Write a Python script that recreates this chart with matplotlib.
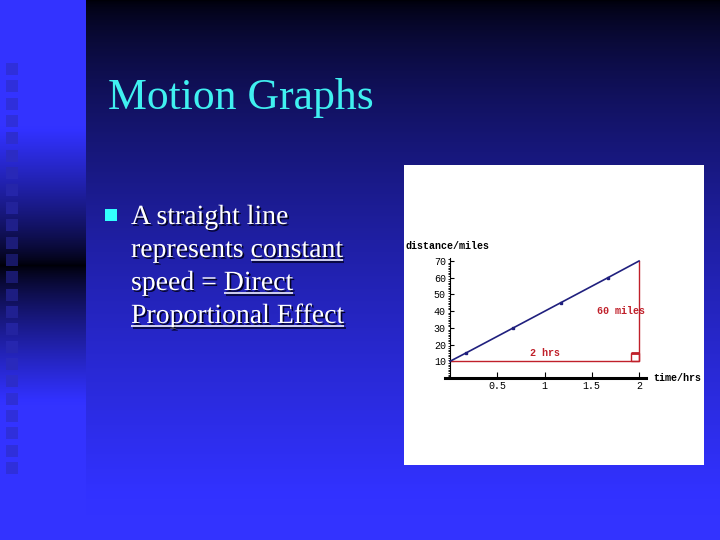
import numpy as np
import matplotlib
matplotlib.use("Agg")
import matplotlib.pyplot as plt
from matplotlib.patches import Rectangle
from matplotlib.font_manager import FontProperties
import matplotlib.patheffects as pe
from matplotlib.ticker import MultipleLocator

# ---- data ----
time_hrs = [0, 0.17, 0.67, 1.17, 1.67, 2.0]
distance_miles = [10, 15, 30, 45, 60, 70]
tri_x = [0, 2, 2]
tri_y = [10, 10, 70]
x_ticks = [0.5, 1, 1.5, 2]
x_tick_labels = ["0.5", "1", "1.5", "2"]
y_ticks = [10, 20, 30, 40, 50, 60, 70]
y_tick_labels = ["10", "20", "30", "40", "50", "60", "70"]
title_text = "Motion Graphs"
bullet_lines = [
    [("A straight line", False)],
    [("represents ", False), ("constant", True)],
    [("speed = ", False), ("Direct", True)],
    [("Proportional Effect", True)],
]

W, H = 720, 540
fig = plt.figure(figsize=(7.2, 5.4), dpi=100)
bg = fig.add_axes([0, 0, 1, 1])
bg.set_xlim(0, W)
bg.set_ylim(H, 0)
bg.axis("off")

# ---- background gradient ----
blue = np.array([0.2, 0.2, 1.0])
yy = np.arange(H)[:, None]
xx = np.arange(W)[None, :]
t_main = np.clip(yy / H * 1.05, 0, 1) ** 0.65
d = np.abs(yy - 265)
t_strip = np.clip(d / 140.0, 0, 1) ** 0.8
t = np.where(xx < 86, t_strip, t_main)
img = t[..., None] * blue[None, None, :]
img = img + np.array([0.0, 0.0, 0.03])
img = np.clip(img, 0, 1)
bg.imshow(img, extent=(0, W, H, 0), aspect="auto", interpolation="bilinear", zorder=0)

# decorative squares on the left strip
for i in range(24):
    y0 = 63 + i * 17.35
    dd = abs(y0 + 6 - 265)
    b = min(1.0, dd / 140.0) ** 0.8
    bgc = b * blue
    col = 0.5 * bgc + 0.5 * np.array([0.17, 0.17, 0.72])
    bg.add_patch(Rectangle((6, y0), 12, 12, color=np.clip(col, 0, 1), lw=0, zorder=1))

# ---- title ----
serif = ["Liberation Serif", "DejaVu Serif"]
bg.text(108, 109, title_text, fontsize=31.5, family=serif, color="#40F0F0",
        va="baseline", ha="left", zorder=3)

# ---- bullet ----
bg.add_patch(Rectangle((105, 209), 12, 12, color="#33FFFF", lw=0, zorder=3))
fs = 20
fp = FontProperties(family=serif, size=fs)
shadow = [pe.withSimplePatchShadow(offset=(1.2, -1.2), shadow_rgbFace="#000018", alpha=0.9)]
lshadow = [pe.SimpleLineShadow(offset=(1.2, -1.2), shadow_color="#000018", alpha=0.9), pe.Normal()]
x0 = 131
baselines = [224, 257, 290, 323]
fig.canvas.draw()
r = fig.canvas.get_renderer()
for segs, yb in zip(bullet_lines, baselines):
    full = "".join(s for s, _ in segs)
    bg.text(x0, yb, full, fontproperties=fp, color="white", va="baseline",
            ha="left", zorder=3, path_effects=shadow)
    prefix = ""
    for s, ul in segs:
        if ul:
            wend, _, _ = r.get_text_width_height_descent(prefix + s, fp, ismath=False)
            wword, _, _ = r.get_text_width_height_descent(s, fp, ismath=False)
            bg.plot([x0 + wend - wword, x0 + wend], [yb + 3, yb + 3], color="white",
                    lw=1.1, solid_capstyle="butt", zorder=3, path_effects=lshadow)
        prefix += s

# ---- chart panel ----
bg.add_patch(Rectangle((404, 165), 300, 300, color="white", lw=0, zorder=2))

mono = ["Liberation Mono", "DejaVu Sans Mono"]
mfs = 7.2
red = "#C0202A"
navy = "#20207E"

ax = fig.add_axes([445 / W, 1 - 378 / H, 201 / W, 120 / H])
ax.set_xlim(-0.053, 2.074)
ax.set_ylim(0, 71.8)
ax.patch.set_alpha(0)
ax.spines["top"].set_visible(False)
ax.spines["right"].set_visible(False)
ax.spines["left"].set_position(("data", 0))
ax.spines["left"].set_linewidth(0.8)
ax.spines["left"].set_bounds(0, 71.8)
ax.spines["bottom"].set_linewidth(2.2)

ax.set_xticks(x_ticks)
ax.set_xticklabels(x_tick_labels, fontfamily=mono, fontsize=mfs)
ax.set_yticks(y_ticks)
ax.set_yticklabels(y_tick_labels, fontfamily=mono, fontsize=mfs)
ax.yaxis.set_minor_locator(MultipleLocator(1))
ax.tick_params(axis="x", which="major", direction="in", length=4, width=0.8, pad=2)
ax.tick_params(axis="y", which="major", direction="in", length=3, width=0.8, pad=3)
ax.tick_params(axis="y", which="minor", direction="out", length=1.5, width=0.6)

ax.plot(tri_x, tri_y, color=red, lw=1.0, zorder=2)
ax.add_patch(Rectangle((1.91, 10), 0.09, 5, fill=False, edgecolor=red, lw=1.0, zorder=2))
ax.plot([1.91, 2.0], [15, 15], color=red, lw=2.0, zorder=2, solid_capstyle="butt")
ax.plot(time_hrs, distance_miles, color=navy, lw=1.2, marker="s", markersize=1.5,
        markevery=[1, 2, 3, 4], zorder=3)

ax.text(1.0, 15, "2 hrs", color=red, fontfamily=mono, fontsize=mfs, fontweight="bold",
        ha="center", va="center")
ax.text(1.807, 40, "60 miles", color=red, fontfamily=mono, fontsize=mfs, fontweight="bold",
        ha="center", va="center")

bg.text(406, 249, "distance/miles", fontfamily=mono, fontsize=mfs, fontweight="bold",
        color="black", ha="left", va="baseline", zorder=4)
bg.text(653, 378, "time/hrs", fontfamily=mono, fontsize=mfs, fontweight="bold",
        color="black", ha="left", va="center", zorder=4)

fig.savefig("out.png", dpi=100)
